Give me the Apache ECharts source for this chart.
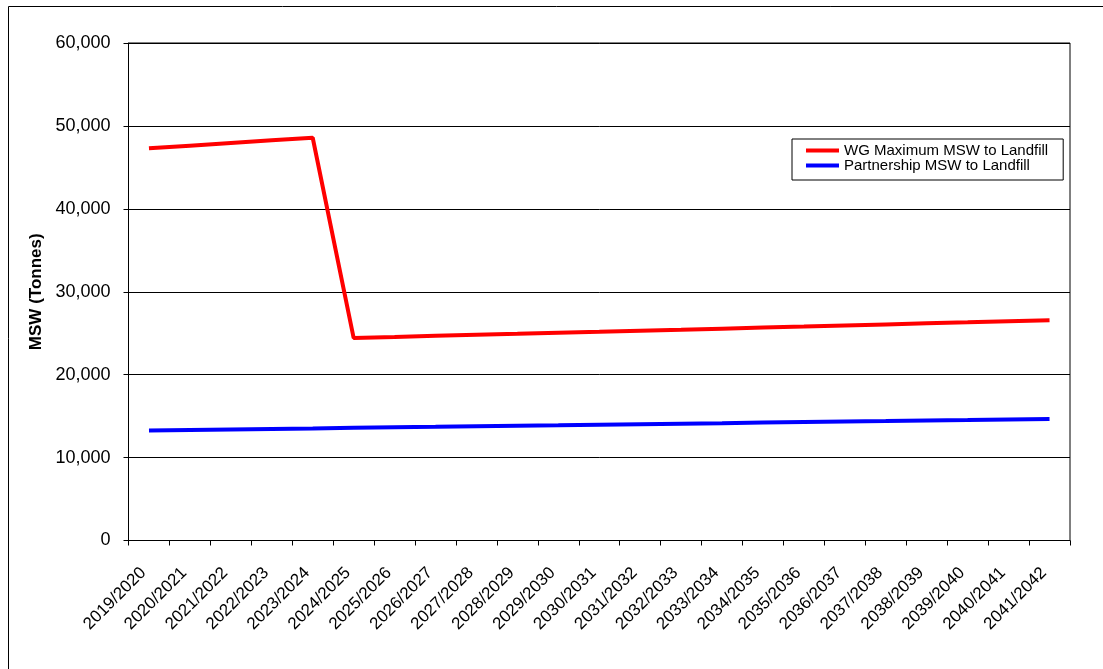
<!DOCTYPE html>
<html>
<head>
<meta charset="utf-8">
<style>html,body{margin:0;padding:0;background:#fff}#c{width:1103px;height:669px}</style>
<script src="https://cdn.jsdelivr.net/npm/echarts@6/dist/echarts.min.js"></script>
</head>
<body>
<div id="c"></div>
<script>
var categories = ['2019/2020','2020/2021','2021/2022','2022/2023','2023/2024','2024/2025','2025/2026','2026/2027','2027/2028','2028/2029','2029/2030','2030/2031','2031/2032','2032/2033','2033/2034','2034/2035','2035/2036','2036/2037','2037/2038','2038/2039','2039/2040','2040/2041','2041/2042'];
var wgMax = [47300,47620,47940,48260,48570,24430,24550,24680,24800,24920,25050,25170,25300,25420,25550,25680,25800,25930,26060,26190,26310,26440,26560];
var partnership = [13280,13340,13400,13460,13520,13590,13650,13710,13780,13840,13900,13970,14030,14090,14150,14220,14280,14340,14400,14470,14530,14600,14660];
var seriesNames = ['WG Maximum MSW to Landfill','Partnership MSW to Landfill'];

var chart = echarts.init(document.getElementById('c'), null, {renderer:'canvas'});
var font = 'Liberation Sans, Arial, sans-serif';
chart.setOption({
  animation: false,
  backgroundColor: '#fff',
  graphic: [{
    type: 'rect', silent: true, z: -10,
    shape: {x: 8.5, y: 6.5, width: 1200, height: 800},
    style: {fill: 'none', stroke: '#000', lineWidth: 1}
  }],
  grid: {left: 128.5, right: 33, top: 43, bottom: 128.5, show: true, borderColor: '#000', borderWidth: 1, backgroundColor: 'transparent'},
  legend: {
    orient: 'vertical',
    left: 792, top: 139,
    padding: [4, 15, 7, 14],
    itemGap: 0,
    itemWidth: 33, itemHeight: 4,
    icon: 'rect',
    backgroundColor: '#fff',
    borderColor: '#000', borderWidth: 1, borderRadius: 0,
    textStyle: {fontFamily: font, fontSize: 15, lineHeight: 14, color: '#000'},
    data: seriesNames
  },
  xAxis: {
    type: 'category',
    data: categories,
    boundaryGap: true,
    axisLine: {lineStyle: {color: '#000', width: 1}},
    axisTick: {show: true, length: 5, lineStyle: {color: '#000'}, alignWithLabel: false},
    axisLabel: {rotate: 45, interval: 0, fontFamily: font, fontSize: 17, color: '#000', margin: 24, padding: [0, 8, 0, 0]}
  },
  yAxis: {
    type: 'value',
    min: 0, max: 60000, interval: 10000,
    name: 'MSW (Tonnes)',
    nameLocation: 'middle',
    nameGap: 84,
    nameTextStyle: {fontFamily: font, fontSize: 17, fontWeight: 'bold', color: '#000'},
    axisLine: {show: true, lineStyle: {color: '#000', width: 1}},
    axisTick: {show: true, length: 5, lineStyle: {color: '#000'}},
    splitLine: {show: true, lineStyle: {color: '#000', width: 1}},
    axisLabel: {fontFamily: font, fontSize: 18, color: '#000', margin: 18,
      formatter: function(v){ return v.toLocaleString('en-US'); }}
  },
  series: [
    {name: seriesNames[0], type: 'line', data: wgMax, symbol: 'none', lineStyle: {color: '#ff0000', width: 4}, itemStyle: {color: '#ff0000'}},
    {name: seriesNames[1], type: 'line', data: partnership, symbol: 'none', lineStyle: {color: '#0000ff', width: 4}, itemStyle: {color: '#0000ff'}}
  ]
});
</script>
</body>
</html>
